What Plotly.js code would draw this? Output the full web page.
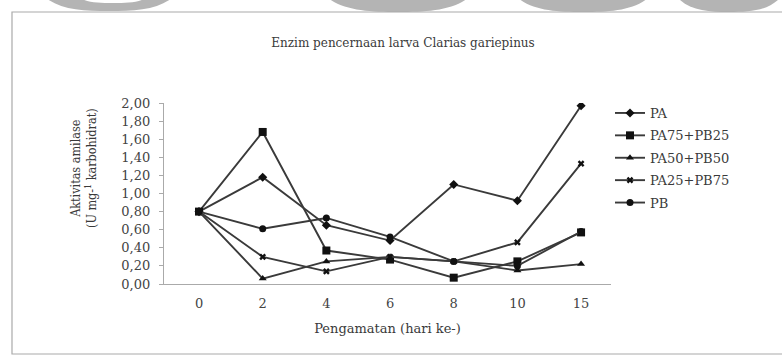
<!DOCTYPE html>
<html>
<head>
<meta charset="utf-8">
<script src="https://cdn.plot.ly/plotly-3.0.1.min.js"></script>
<style>html,body{margin:0;padding:0;background:#fff;}#chart{width:782px;height:356px;}</style>
</head>
<body>
<div id="chart"></div>
<script>
// Data
const days = ['0', '2', '4', '6', '8', '10', '15'];
const seriesNames = ['PA', 'PA75+PB25', 'PA50+PB50', 'PA25+PB75', 'PB'];
const PA        = [0.80, 1.18, 0.65, 0.48, 1.10, 0.92, 1.97];
const PA75_PB25 = [0.80, 1.68, 0.37, 0.27, 0.07, 0.25, 0.57];
const PA50_PB50 = [0.80, 0.06, 0.25, 0.30, 0.25, 0.15, 0.22];
const PA25_PB75 = [0.80, 0.30, 0.14, 0.30, 0.25, 0.46, 1.33];
const PB        = [0.80, 0.61, 0.73, 0.52, 0.25, 0.20, 0.58];
const yTickVals = [0, 0.2, 0.4, 0.6, 0.8, 1.0, 1.2, 1.4, 1.6, 1.8, 2.0];
const yTickText = ['0,00','0,20','0,40','0,60','0,80','1,00','1,20','1,40','1,60','1,80','2,00'];

const allSeries = [PA, PA75_PB25, PA50_PB50, PA25_PB75, PB];
const symbols = ['diamond', 'square', 'triangle-up', 'x', 'circle'];
const sizes = [7, 8, 7, 6, 7];

const W = 782, H = 356;
const L = 164, R = 611, T = 103, B = 284;
const px = x => (x - L) / (R - L);
const py = y => (B - y) / (B - T);

const traces = allSeries.map((vals, i) => ({
  type: 'scatter',
  mode: 'lines+markers',
  name: seriesNames[i],
  legendgroup: 'g' + i,
  x: days,
  y: vals,
  line: {color: '#3a3a3a', width: 1.9},
  marker: {symbol: symbols[i], size: sizes[i], color: '#111', line: {width: 0}}
}));

// decorative blobs along the top edge (bottom parts of grey circles)
const blob = (x0, x1, depth, c) => {
  const cx = (x0 + x1) / 2;
  return {type: 'path', xref: 'paper', yref: 'paper', fillcolor: c, line: {width: 0}, layer: 'below',
    path: `M ${px(x0)},${py(-2)} C ${px(x0 + (x1 - x0) * 0.12)},${py(depth * 0.9)} ${px(x0 + (x1 - x0) * 0.3)},${py(depth)} ${px(cx)},${py(depth)} ` +
          `C ${px(x1 - (x1 - x0) * 0.3)},${py(depth)} ${px(x1 - (x1 - x0) * 0.12)},${py(depth * 0.9)} ${px(x1)},${py(-2)} Z`};
};

const layout = {
  width: W, height: H,
  margin: {l: L, r: W - R, t: T, b: H - B, pad: 0},
  paper_bgcolor: '#fff', plot_bgcolor: 'rgba(0,0,0,0)',
  font: {family: '"DejaVu Serif", serif', size: 13, color: '#444'},
  showlegend: true,
  legend: {x: px(610), y: py(98), xanchor: 'left', yanchor: 'top',
    font: {family: '"DejaVu Serif", serif', size: 13, color: '#3a3a3a'},
    tracegroupgap: 2.5, bgcolor: 'rgba(0,0,0,0)'},
  title: {text: 'Enzim pencernaan larva Clarias gariepinus',
    font: {family: '"DejaVu Serif", serif', size: 12, color: '#3a3a3a'},
    x: px(403), xanchor: 'center', xref: 'paper', y: 1 - 43 / H, yanchor: 'middle'},
  xaxis: {type: 'category', categoryorder: 'array', categoryarray: days,
    range: [-0.55, 6.47], showgrid: false, zeroline: false,
    showline: true, linecolor: '#aaa', linewidth: 1.2, ticks: '',
    tickfont: {family: '"DejaVu Serif", serif', size: 13, color: '#444'},
    ticklabelstandoff: 7,
    title: {text: 'Pengamatan (hari ke-)', standoff: 14,
      font: {family: '"DejaVu Serif", serif', size: 13, color: '#3a3a3a'}}},
  yaxis: {range: [0, 2], tickvals: yTickVals, ticktext: yTickText,
    showgrid: false, zeroline: false, showline: true, linecolor: '#aaa', linewidth: 1.2,
    ticks: 'outside', ticklen: 4, tickcolor: '#aaa', ticklabelstandoff: 6,
    tickfont: {family: '"DejaVu Serif", serif', size: 13, color: '#444'}},
  annotations: [{
    text: 'Aktivitas amilase<br>(U mg-<sup>1</sup> karbohidrat)',
    textangle: -90, xref: 'paper', yref: 'paper', x: px(83), y: py(168),
    xanchor: 'center', yanchor: 'middle', showarrow: false,
    font: {family: '"DejaVu Serif Condensed", serif', size: 12.5, color: '#3a3a3a'}
  }],
  shapes: [
    blob(46, 172, 11, '#b4b4b4'),
    blob(80, 146, 3, '#ffffff'),
    blob(328, 468, 12, '#b4b4b4'),
    blob(518, 648, 12, '#b4b4b4'),
    blob(678, 780, 12, '#b4b4b4'),
    {type: 'rect', xref: 'paper', yref: 'paper', x0: px(12), x1: px(800), y0: py(354), y1: py(12),
      fillcolor: '#fff', line: {color: '#aaa', width: 1.2}, layer: 'below'}
  ]
};

Plotly.newPlot('chart', traces, layout, {displayModeBar: false, staticPlot: true});
</script>
</body>
</html>
